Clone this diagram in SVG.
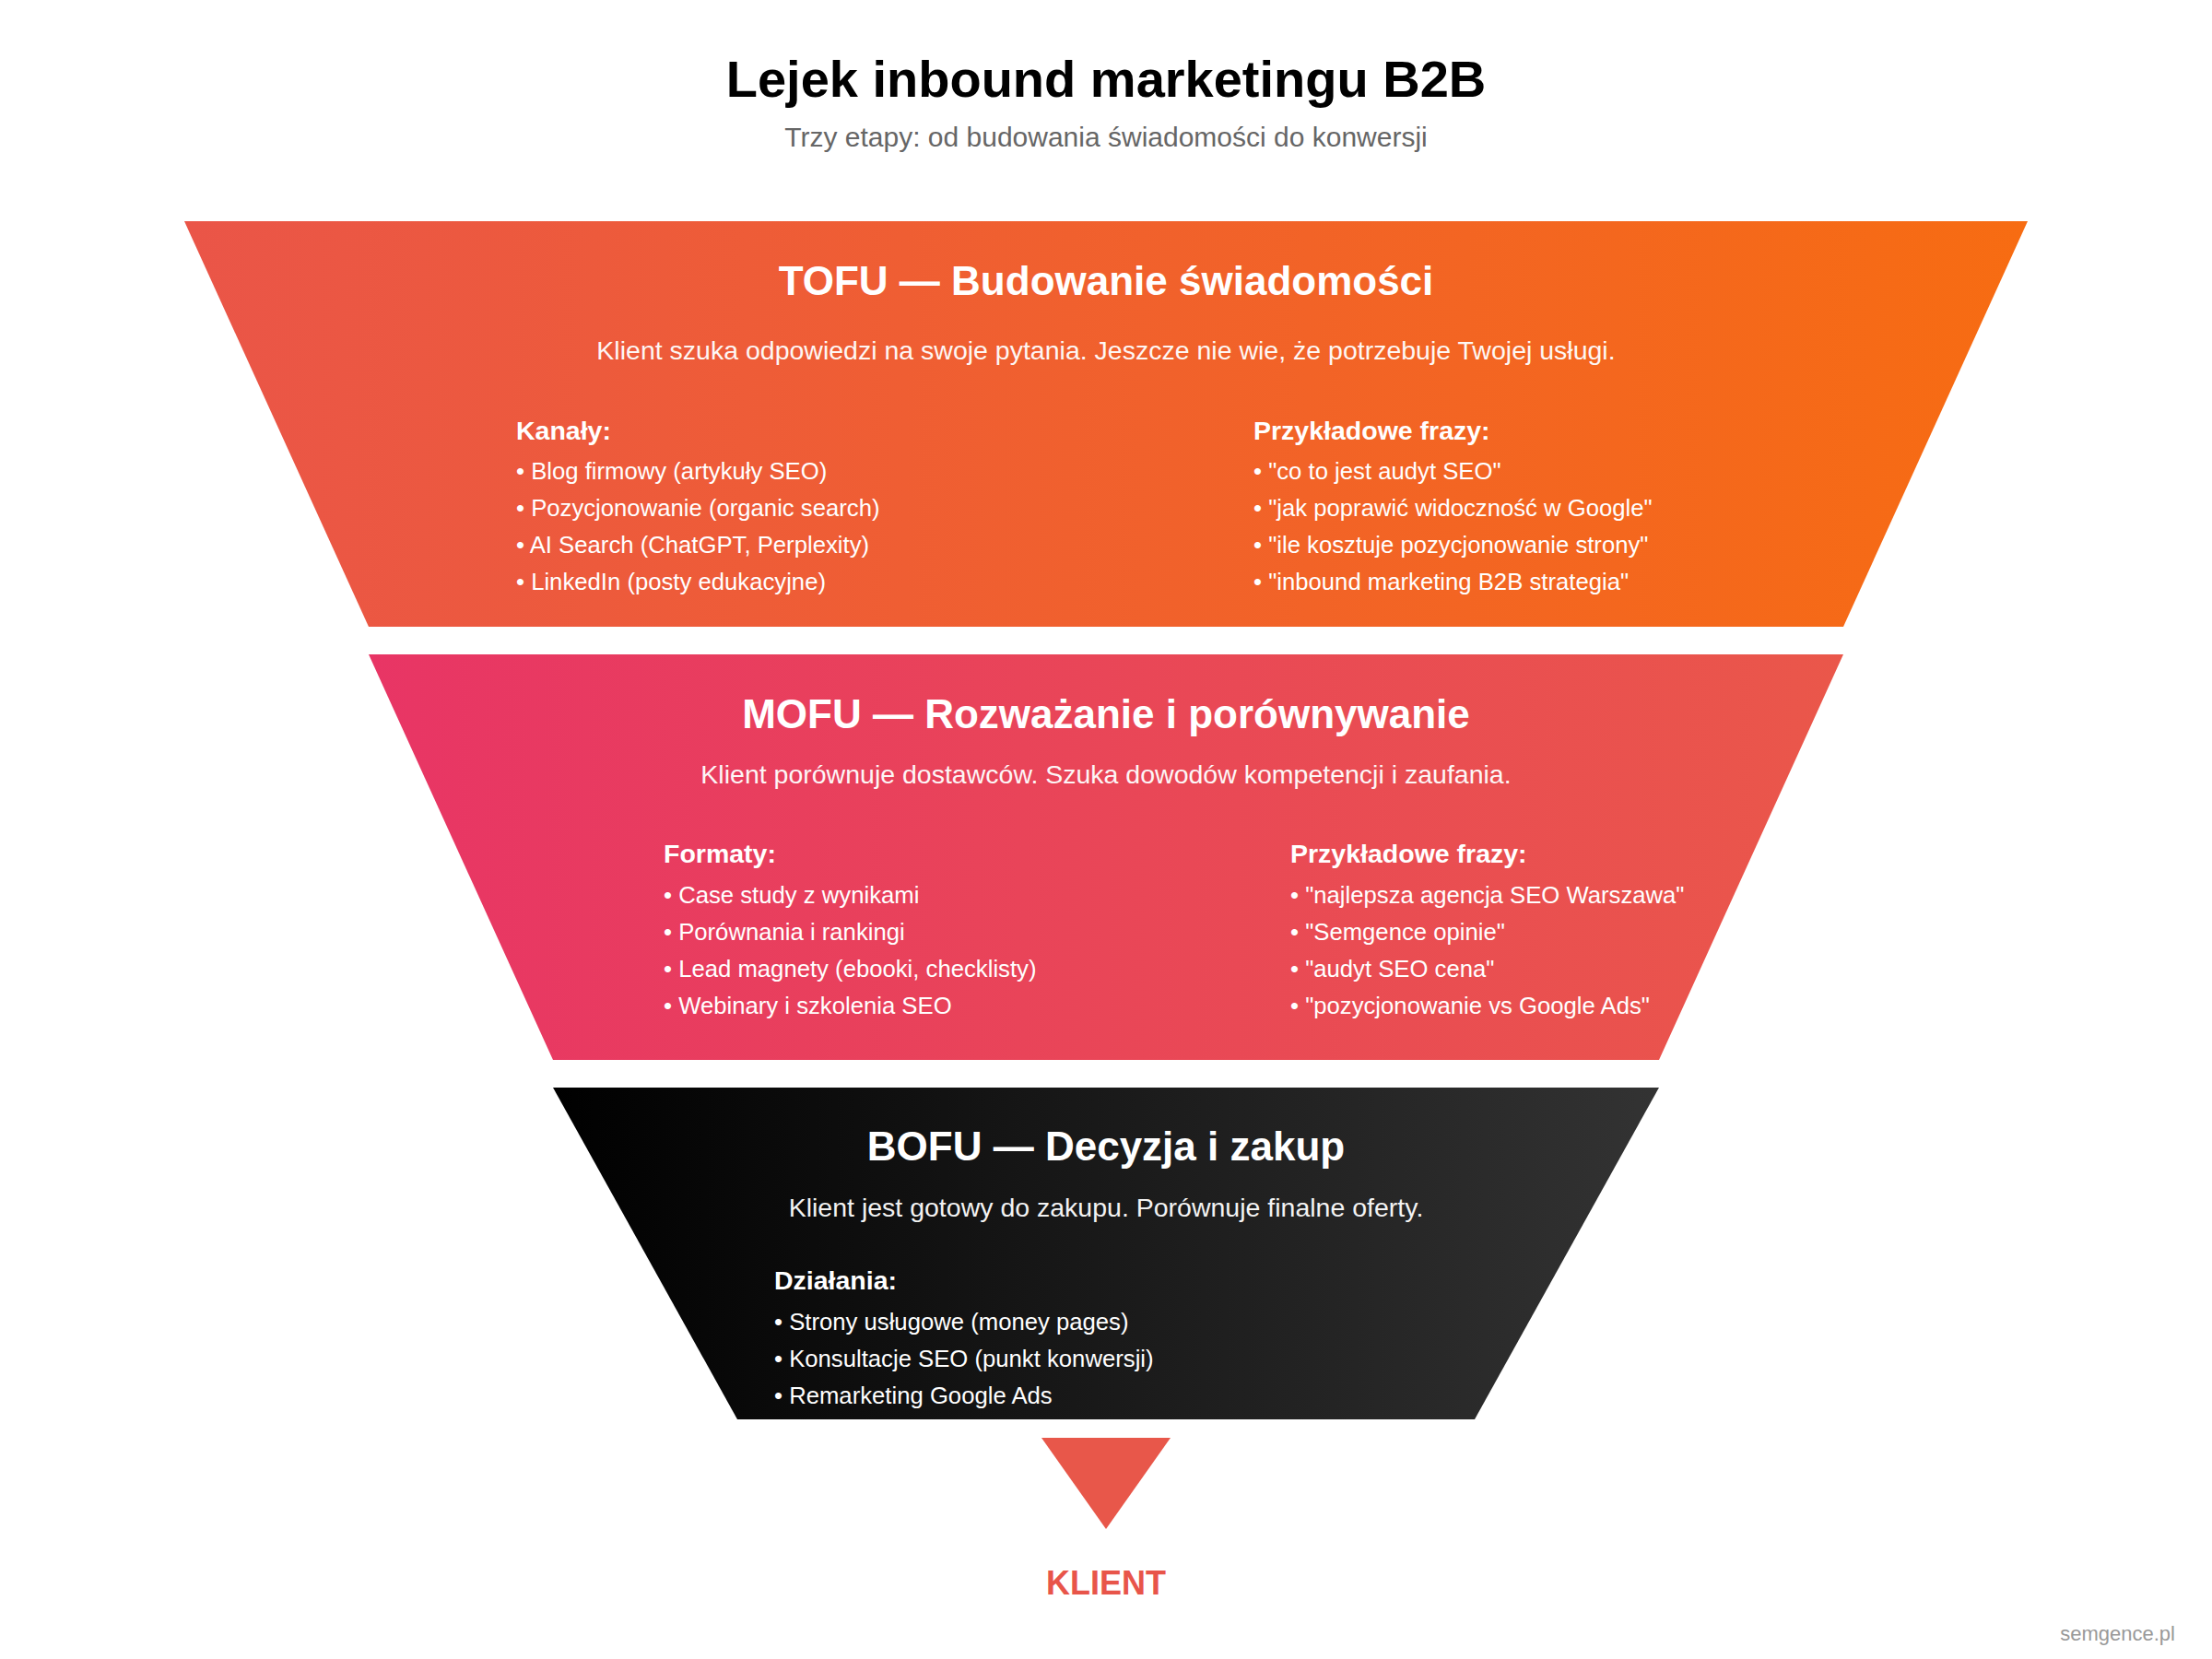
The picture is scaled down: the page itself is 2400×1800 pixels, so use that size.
<svg xmlns="http://www.w3.org/2000/svg" width="2400" height="1800" viewBox="0 0 2400 1800">
<defs>
<linearGradient id="gTofu" x1="0" y1="0" x2="1" y2="0"><stop offset="0" stop-color="#EA5548"/><stop offset="1" stop-color="#F76C12"/></linearGradient>
<linearGradient id="gMofu" x1="0" y1="0" x2="1" y2="0"><stop offset="0" stop-color="#E83565"/><stop offset="1" stop-color="#EA574A"/></linearGradient>
<linearGradient id="gBofu" x1="0" y1="0" x2="1" y2="0"><stop offset="0" stop-color="#000000"/><stop offset="1" stop-color="#333333"/></linearGradient>
</defs>
<style>
text{font-family:"Liberation Sans",Arial,sans-serif;}
.title{font-size:56px;font-weight:bold;fill:#000;text-anchor:middle;}
.sub{font-size:30px;fill:#666;text-anchor:middle;}
.st{font-size:44px;font-weight:bold;fill:#fff;text-anchor:middle;}
.desc{font-size:28.5px;fill:#fff;text-anchor:middle;opacity:0.95;}
.hd{font-size:28.5px;font-weight:bold;fill:#fff;}
.li{font-size:25.7px;fill:#fff;}
.klient{font-size:36px;font-weight:bold;fill:#E8554A;text-anchor:middle;}
.brand{font-size:22px;fill:#999;text-anchor:end;}
</style>
<rect width="2400" height="1800" fill="#fff"/>
<text class="title" x="1200" y="105">Lejek inbound marketingu B2B</text>
<text class="sub" x="1200" y="159">Trzy etapy: od budowania świadomości do konwersji</text>

<g id="tofu">
<polygon points="200,240 2200,240 2000,680 400,680" fill="url(#gTofu)"/>
<text class="st" x="1200" y="320">TOFU — Budowanie świadomości</text>
<text class="desc" x="1200" y="390">Klient szuka odpowiedzi na swoje pytania. Jeszcze nie wie, że potrzebuje Twojej usługi.</text>
<text class="hd" x="560" y="477">Kanały:</text>
<text class="li" x="560" y="520">• Blog firmowy (artykuły SEO)</text>
<text class="li" x="560" y="560">• Pozycjonowanie (organic search)</text>
<text class="li" x="560" y="600">• AI Search (ChatGPT, Perplexity)</text>
<text class="li" x="560" y="640">• LinkedIn (posty edukacyjne)</text>
<text class="hd" x="1360" y="477">Przykładowe frazy:</text>
<text class="li" x="1360" y="520">• "co to jest audyt SEO"</text>
<text class="li" x="1360" y="560">• "jak poprawić widoczność w Google"</text>
<text class="li" x="1360" y="600">• "ile kosztuje pozycjonowanie strony"</text>
<text class="li" x="1360" y="640">• "inbound marketing B2B strategia"</text>
</g>

<g id="mofu">
<polygon points="400,710 2000,710 1800,1150 600,1150" fill="url(#gMofu)"/>
<text class="st" x="1200" y="790">MOFU — Rozważanie i porównywanie</text>
<text class="desc" x="1200" y="850">Klient porównuje dostawców. Szuka dowodów kompetencji i zaufania.</text>
<text class="hd" x="720" y="936">Formaty:</text>
<text class="li" x="720" y="980">• Case study z wynikami</text>
<text class="li" x="720" y="1020">• Porównania i rankingi</text>
<text class="li" x="720" y="1060">• Lead magnety (ebooki, checklisty)</text>
<text class="li" x="720" y="1100">• Webinary i szkolenia SEO</text>
<text class="hd" x="1400" y="936">Przykładowe frazy:</text>
<text class="li" x="1400" y="980">• "najlepsza agencja SEO Warszawa"</text>
<text class="li" x="1400" y="1020">• "Semgence opinie"</text>
<text class="li" x="1400" y="1060">• "audyt SEO cena"</text>
<text class="li" x="1400" y="1100">• "pozycjonowanie vs Google Ads"</text>
</g>

<g id="bofu">
<polygon points="600,1180 1800,1180 1600,1540 800,1540" fill="url(#gBofu)"/>
<text class="st" x="1200" y="1259">BOFU — Decyzja i zakup</text>
<text class="desc" x="1200" y="1320">Klient jest gotowy do zakupu. Porównuje finalne oferty.</text>
<text class="hd" x="840" y="1399">Działania:</text>
<text class="li" x="840" y="1443">• Strony usługowe (money pages)</text>
<text class="li" x="840" y="1483">• Konsultacje SEO (punkt konwersji)</text>
<text class="li" x="840" y="1523">• Remarketing Google Ads</text>
</g>

<g id="connectors">
<polygon points="1130,1560 1270,1560 1200,1659" fill="#E8574A"/>
</g>

<g id="klient">
<text class="klient" x="1200" y="1730">KLIENT</text>
</g>
<text class="brand" x="2360" y="1780">semgence.pl</text>
</svg>
